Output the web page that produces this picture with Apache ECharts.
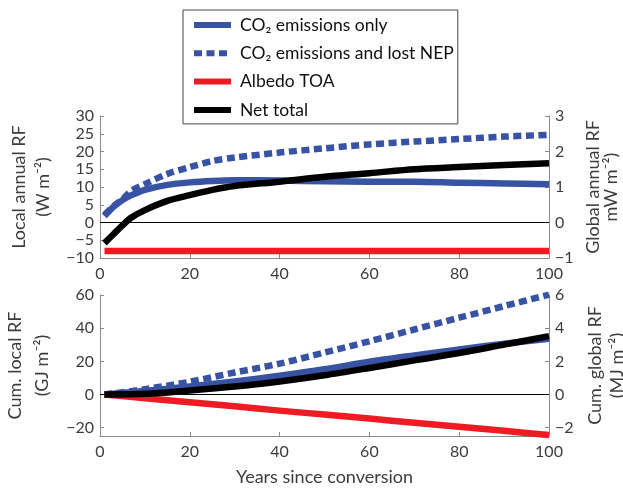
<!DOCTYPE html>
<html>
<head>
<meta charset="utf-8">
<script src="https://cdn.jsdelivr.net/npm/echarts@6/dist/echarts.min.js"></script>
<style>
html,body{margin:0;padding:0;background:#fff;}
#chart{width:623px;height:490px;}
</style>
</head>
<body>
<div id="chart"></div>
<script>
// ---- Data ----
const seriesNames = ['CO\u2082 emissions only', 'CO\u2082 emissions and lost NEP', 'Albedo TOA', 'Net total'];

// Top panel: local annual RF (W m-2)
const yearsAnnual = [1, 3, 5, 7, 10, 15, 20, 25, 30, 40, 50, 60, 70, 80, 90, 100];
const annualCo2Only = [1.8, 4.4, 6.3, 7.7, 9.2, 10.6, 11.3, 11.7, 11.9, 11.8, 11.6, 11.5, 11.5, 11.2, 11.0, 10.8];
const annualCo2Nep  = [2.1, 4.6, 6.5, 8.9, 10.8, 13.7, 15.6, 17.3, 18.3, 19.7, 20.9, 22.0, 22.8, 23.5, 24.2, 24.7];
const annualAlbedo  = [-8.0, -8.0, -8.0, -8.0, -8.0, -8.0, -8.0, -8.0, -8.0, -8.0, -8.0, -8.0, -8.0, -8.0, -8.0, -8.0];
const annualNet     = [-5.8, -3.3, -0.8, 1.4, 3.5, 6.1, 7.7, 9.2, 10.3, 11.5, 12.9, 13.9, 15.0, 15.6, 16.2, 16.7];

// Bottom panel: cumulative local RF (GJ m-2)
const yearsCum = [1, 10, 20, 30, 40, 50, 60, 70, 80, 90, 100];
const cumCo2Only = [0, 2.2, 4.8, 7.9, 11.3, 15.2, 19.8, 23.6, 27.2, 30.6, 33.6];
const cumCo2Nep  = [0, 3.2, 7.7, 13.3, 18.6, 25.3, 32.1, 39.2, 46.3, 53.3, 60.2];
const cumAlbedo  = [0, -2.2, -4.6, -7.1, -9.7, -12.1, -14.5, -17.0, -19.4, -21.9, -24.4];
const cumNet     = [0, 0.4, 2.4, 4.8, 7.9, 11.6, 16.0, 20.6, 25.0, 30.1, 35.2];

// Tick labels
const xTicks = [0, 20, 40, 60, 80, 100];
const cumLocalTicks = [-20, 0, 20, 40, 60];
const cumGlobalTicks = [-2, 0, 2, 4, 6];

// ---- Styles ----
const FONT = 'Lato';
const TXT = '#3c3c3c';
const AX = '#8a8a8a';
const BLUE = '#3953a4';
const RED = '#ed1c24';
const BLACK = '#000000';
const LW = 6.5;

function pairs(xs, ys){ return xs.map((x, i) => [x, ys[i]]); }
const minusFmt = v => String(v).replace('-', '\u2212');

const axisLineStyle = {show: true, onZero: false, lineStyle: {color: AX, width: 1}};
const tickStyle = {show: true, inside: true, length: 4, lineStyle: {color: AX, width: 1}};
const labelStyle = {color: TXT, fontFamily: FONT, fontSize: 16, formatter: minusFmt};
const nameStyle = (lh) => ({color: TXT, fontFamily: FONT, fontSize: 18, lineHeight: lh, align: 'center'});

const zeroLine = {
  silent: true, symbol: 'none', label: {show: false},
  lineStyle: {color: '#000', width: 1, type: 'solid'},
  data: [{yAxis: 0}]
};

function makeSeries(xi, yi, xs, data, cols, dashes, withZero){
  return seriesNames.map((nm, k) => {
    const s = {
      name: nm, type: 'line', xAxisIndex: xi, yAxisIndex: yi,
      data: pairs(xs, data[k]), symbol: 'none', smooth: 0.3,
      lineStyle: {color: cols[k], width: LW, type: dashes[k], cap: 'butt', join: 'round'},
      itemStyle: {color: cols[k]},
      z: 2 + k
    };
    if (k === 0 && withZero) s.markLine = zeroLine;
    return s;
  });
}

const cols = [BLUE, BLUE, RED, BLACK];
const dashes = ['solid', [8, 4.5], 'solid', 'solid'];

const option = {
  animation: false,
  backgroundColor: '#fff',
  legend: {
    data: seriesNames,
    orient: 'vertical',
    left: 183, top: 10,
    padding: [6, 4, 5, 8],
    itemWidth: 37, itemHeight: 14, itemGap: 10.3,
    borderColor: '#444', borderWidth: 1,
    itemStyle: {opacity: 0},
    lineStyle: {width: 6},
    textStyle: {color: '#111', fontFamily: FONT, fontSize: 17.5, padding: [0, 0, 0, 4]}
  },
  grid: [
    {left: 100, right: 74, top: 116, height: 142, containLabel: false, outerBoundsMode: 'none'},
    {left: 100, right: 74, top: 295, height: 141, containLabel: false, outerBoundsMode: 'none'}
  ],
  xAxis: [
    {gridIndex: 0, type: 'value', min: 0, max: 100, interval: 20,
     axisLine: axisLineStyle, axisTick: tickStyle, splitLine: {show: false},
     axisLabel: Object.assign({margin: 8, customValues: xTicks}, labelStyle)},
    {gridIndex: 1, type: 'value', min: 0, max: 100, interval: 20,
     axisLine: axisLineStyle, axisTick: tickStyle, splitLine: {show: false},
     axisLabel: Object.assign({margin: 8, customValues: xTicks}, labelStyle),
     name: 'Years since conversion', nameLocation: 'middle', nameGap: 30,
     nameTextStyle: nameStyle(22)}
  ],
  yAxis: [
    {gridIndex: 0, type: 'value', position: 'left', min: -10, max: 30, interval: 5,
     axisLine: axisLineStyle, axisTick: tickStyle, splitLine: {show: false},
     axisLabel: Object.assign({margin: 6}, labelStyle),
     name: 'Local annual RF\n(W m\u207B\u00B2)', nameLocation: 'middle', nameRotate: 90, nameGap: 37,
     nameTextStyle: nameStyle(24)},
    {gridIndex: 0, type: 'value', position: 'right', min: -1, max: 3, interval: 1,
     axisLine: axisLineStyle, axisTick: tickStyle, splitLine: {show: false},
     axisLabel: Object.assign({margin: 6}, labelStyle),
     name: 'Global annual RF\nmW m\u207B\u00B2)', nameLocation: 'middle', nameRotate: 90, nameGap: 33,
     nameTextStyle: nameStyle(18)},
    {gridIndex: 1, type: 'value', position: 'left', min: -25, max: 60,
     axisLine: axisLineStyle,
     axisTick: Object.assign({customValues: cumLocalTicks}, tickStyle), splitLine: {show: false},
     axisLabel: Object.assign({margin: 6, customValues: cumLocalTicks}, labelStyle),
     name: 'Cum. local RF\n(GJ m\u207B\u00B2)', nameLocation: 'middle', nameRotate: 90, nameGap: 41,
     nameTextStyle: nameStyle(27)},
    {gridIndex: 1, type: 'value', position: 'right', min: -2.5, max: 6,
     axisLine: axisLineStyle,
     axisTick: Object.assign({customValues: cumGlobalTicks}, tickStyle), splitLine: {show: false},
     axisLabel: Object.assign({margin: 6, customValues: cumGlobalTicks}, labelStyle),
     name: 'Cum. global RF\n(MJ m\u207B\u00B2)', nameLocation: 'middle', nameRotate: 90, nameGap: 30,
     nameTextStyle: nameStyle(22)}
  ],
  series: [].concat(
    makeSeries(0, 0, yearsAnnual, [annualCo2Only, annualCo2Nep, annualAlbedo, annualNet], cols, dashes, true),
    makeSeries(1, 2, yearsCum, [cumCo2Only, cumCo2Nep, cumAlbedo, cumNet], cols, dashes, true)
  )
};

const chart = echarts.init(document.getElementById('chart'), null, {renderer: 'canvas'});
chart.setOption(option);
</script>
</body>
</html>
